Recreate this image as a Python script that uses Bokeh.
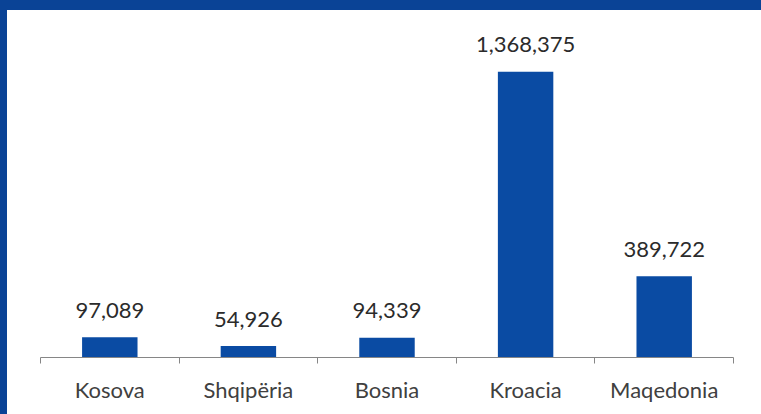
from bokeh.plotting import figure
from bokeh.models import Range1d, FixedTicker, ColumnDataSource, LinearAxis
from bokeh.embed import file_html
from bokeh.resources import INLINE
from bokeh.core.properties import value

categories = ["Kosova", "Shqipëria", "Bosnia", "Kroacia", "Maqedonia"]
values = [97089, 54926, 94339, 1368375, 389722]
value_labels = ["97,089", "54,926", "94,339", "1,368,375", "389,722"]

BORDER = "#0A4396"
BAR = "#0A4BA3"

n = len(categories)
pos = list(range(n))
src = ColumnDataSource(dict(x=pos, top=values, lab=value_labels))

p = figure(width=761, height=414, output_backend="svg", toolbar_location=None,
           x_range=Range1d(-0.5, n - 0.5), y_range=Range1d(0, 1600000),
           x_axis_type=None, y_axis_type=None,
           min_border_left=40, min_border_right=28, min_border_top=23, min_border_bottom=57)
band = f"linear-gradient({BORDER}, {BORDER})"
p.styles = {"position": "absolute", "left": "0px", "top": "0px",
            "background": f"{band} top left / 100% 10px no-repeat, "
                          f"{band} top left / 7px 100% no-repeat, white"}
p.outline_line_color = None
p.grid.visible = False
p.background_fill_color = None
p.border_fill_color = None

p.vbar(x="x", top="top", width=0.4, source=src, fill_color=BAR, line_color=None)
p.text(x="x", y="top", text="lab", source=src, text_align="center",
       text_baseline="alphabetic", y_offset=-27, text_font=value("Lato"),
       text_font_size="22px", text_color="#2B2B2B")

ax = LinearAxis(ticker=FixedTicker(ticks=pos, minor_ticks=[i - 0.5 for i in range(n + 1)]))
ax.major_label_overrides = {i: c for i, c in zip(pos, categories)}
ax.axis_line_color = "#868686"
ax.major_tick_line_color = None
ax.major_tick_out = 0
ax.major_tick_in = 0
ax.minor_tick_line_color = "#868686"
ax.minor_tick_out = 6
ax.minor_tick_in = 0
ax.major_label_standoff = 12
ax.major_label_text_font = "Lato"
ax.major_label_text_font_size = "22px"
ax.major_label_text_color = "#404040"
p.add_layout(ax, "below")

open("out.html", "w").write(file_html(p, INLINE))
